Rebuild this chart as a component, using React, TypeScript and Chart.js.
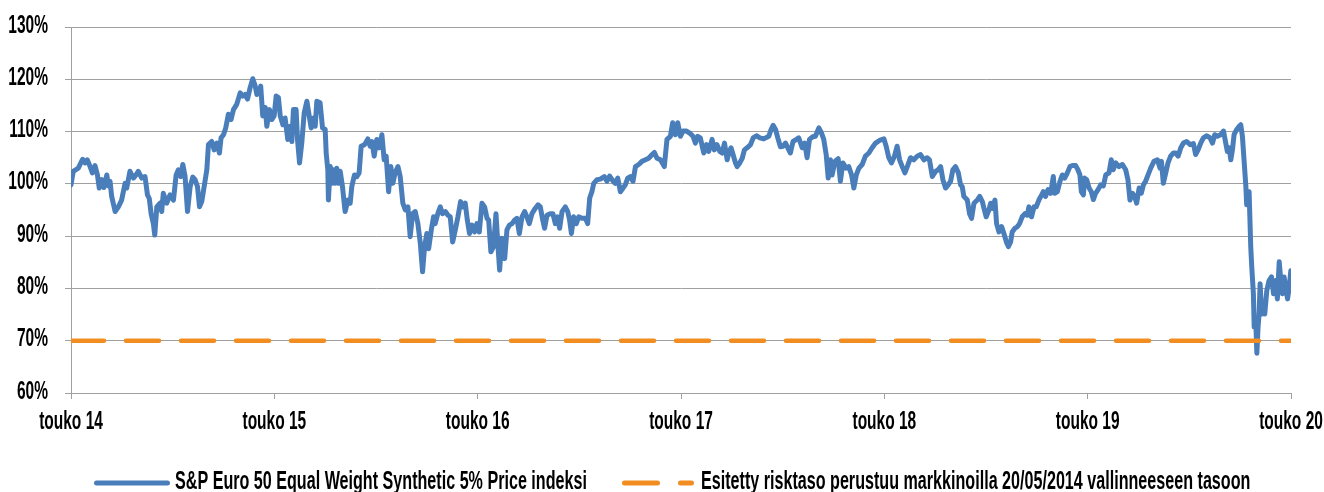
import { useEffect, useRef } from "react";
import { Chart, registerables } from "chart.js";

Chart.register(...registerables);

// ---------- data ----------
const X_TICK_LABELS = ["touko 14", "touko 15", "touko 16", "touko 17", "touko 18", "touko 19", "touko 20"];
const Y_TICKS = [60, 70, 80, 90, 100, 110, 120, 130];
const SERIES_LABEL = "S&P Euro 50 Equal Weight Synthetic 5% Price indeksi";
const RISK_LABEL = "Esitetty risktaso perustuu markkinoilla 20/05/2014 vallinneeseen tasoon";
const RISK_LEVEL = 70;
const RISK_SPAN = [0, 6]; // years since 20/05/2014

// years since 20/05/2014
const YEARS = [
  0.000, 0.011, 0.036, 0.057, 0.069, 0.080, 0.094, 0.105, 0.118, 0.130, 0.139, 0.151, 0.162, 0.176, 0.184, 0.192,
  0.200, 0.217, 0.233, 0.249, 0.266, 0.274, 0.290, 0.307, 0.320, 0.331, 0.348, 0.364, 0.376, 0.385, 0.394, 0.405,
  0.412, 0.422, 0.438, 0.446, 0.454, 0.471, 0.487, 0.504, 0.517, 0.528, 0.540, 0.550, 0.561, 0.573, 0.586, 0.599,
  0.610, 0.622, 0.632, 0.643, 0.655, 0.668, 0.676, 0.692, 0.704, 0.717, 0.730, 0.738, 0.750, 0.761, 0.774, 0.787,
  0.799, 0.815, 0.832, 0.845, 0.856, 0.868, 0.881, 0.894, 0.906, 0.914, 0.925, 0.933, 0.943, 0.955, 0.963, 0.976,
  0.988, 0.999, 1.009, 1.020, 1.029, 1.042, 1.053, 1.066, 1.078, 1.086, 1.094, 1.107, 1.114, 1.124, 1.135, 1.147,
  1.160, 1.181, 1.193, 1.201, 1.209, 1.225, 1.237, 1.250, 1.255, 1.263, 1.266, 1.275, 1.283, 1.291, 1.299, 1.307,
  1.316, 1.324, 1.335, 1.348, 1.362, 1.373, 1.381, 1.394, 1.406, 1.417, 1.427, 1.444, 1.460, 1.471, 1.480, 1.491,
  1.504, 1.516, 1.529, 1.540, 1.550, 1.562, 1.573, 1.583, 1.594, 1.608, 1.619, 1.632, 1.644, 1.657, 1.668, 1.680,
  1.693, 1.706, 1.718, 1.729, 1.739, 1.750, 1.759, 1.772, 1.783, 1.791, 1.804, 1.816, 1.827, 1.841, 1.854, 1.865,
  1.877, 1.890, 1.903, 1.916, 1.928, 1.939, 1.949, 1.960, 1.972, 1.985, 1.996, 2.008, 2.021, 2.034, 2.046, 2.054,
  2.065, 2.078, 2.090, 2.100, 2.108, 2.119, 2.133, 2.144, 2.156, 2.169, 2.182, 2.193, 2.205, 2.218, 2.231, 2.242,
  2.254, 2.267, 2.283, 2.297, 2.308, 2.320, 2.329, 2.341, 2.357, 2.370, 2.382, 2.393, 2.403, 2.415, 2.431, 2.443,
  2.452, 2.461, 2.472, 2.485, 2.497, 2.513, 2.530, 2.541, 2.551, 2.562, 2.571, 2.587, 2.603, 2.623, 2.636, 2.649,
  2.666, 2.677, 2.689, 2.702, 2.715, 2.726, 2.738, 2.751, 2.764, 2.776, 2.792, 2.808, 2.825, 2.841, 2.858, 2.869,
  2.882, 2.899, 2.918, 2.931, 2.948, 2.959, 2.972, 2.984, 2.997, 3.010, 3.027, 3.043, 3.059, 3.071, 3.082, 3.095,
  3.112, 3.125, 3.136, 3.153, 3.164, 3.177, 3.191, 3.202, 3.214, 3.227, 3.235, 3.246, 3.256, 3.268, 3.276, 3.289,
  3.301, 3.312, 3.325, 3.342, 3.355, 3.371, 3.388, 3.407, 3.432, 3.443, 3.453, 3.465, 3.476, 3.489, 3.502, 3.514,
  3.525, 3.538, 3.551, 3.568, 3.579, 3.596, 3.609, 3.620, 3.632, 3.648, 3.661, 3.678, 3.691, 3.702, 3.714, 3.724,
  3.735, 3.743, 3.757, 3.773, 3.784, 3.796, 3.812, 3.825, 3.839, 3.850, 3.862, 3.875, 3.891, 3.907, 3.924, 3.940,
  3.957, 3.976, 3.998, 4.009, 4.022, 4.035, 4.050, 4.063, 4.075, 4.088, 4.101, 4.113, 4.129, 4.145, 4.162, 4.178,
  4.195, 4.211, 4.222, 4.236, 4.252, 4.265, 4.277, 4.288, 4.301, 4.314, 4.326, 4.337, 4.350, 4.364, 4.375, 4.383,
  4.391, 4.408, 4.419, 4.429, 4.441, 4.457, 4.469, 4.482, 4.490, 4.501, 4.514, 4.523, 4.531, 4.544, 4.552, 4.564,
  4.577, 4.588, 4.600, 4.610, 4.621, 4.629, 4.642, 4.654, 4.665, 4.678, 4.692, 4.703, 4.711, 4.724, 4.736, 4.747,
  4.760, 4.774, 4.782, 4.793, 4.805, 4.818, 4.831, 4.838, 4.851, 4.864, 4.875, 4.887, 4.900, 4.913, 4.925, 4.941,
  4.952, 4.962, 4.969, 4.979, 4.985, 4.995, 5.007, 5.018, 5.028, 5.039, 5.051, 5.064, 5.077, 5.089, 5.105, 5.116,
  5.126, 5.138, 5.154, 5.171, 5.187, 5.198, 5.208, 5.220, 5.231, 5.241, 5.253, 5.264, 5.274, 5.285, 5.297, 5.310,
  5.326, 5.343, 5.356, 5.363, 5.372, 5.384, 5.395, 5.408, 5.422, 5.433, 5.445, 5.458, 5.471, 5.487, 5.504, 5.520,
  5.531, 5.543, 5.556, 5.569, 5.586, 5.602, 5.614, 5.625, 5.638, 5.654, 5.668, 5.679, 5.687, 5.696, 5.704, 5.712,
  5.720, 5.733, 5.745, 5.753, 5.761, 5.769, 5.778, 5.782, 5.794, 5.802, 5.807, 5.815, 5.819, 5.827, 5.832, 5.838,
  5.843, 5.848, 5.856, 5.864, 5.871, 5.881, 5.892, 5.904, 5.914, 5.925, 5.933, 5.942, 5.950, 5.958, 5.966, 5.974,
  5.983, 5.991, 5.999,
];

// index level, % of the 20/05/2014 level
const VALUES = [
  99.8, 102.4, 103.0, 104.7, 104.0, 104.6, 103.3, 102.1, 103.5, 101.7, 99.2, 100.8, 99.3, 101.7, 99.6, 100.5,
  97.6, 94.7, 95.6, 96.9, 100.1, 99.2, 102.4, 101.1, 101.7, 102.4, 101.1, 101.4, 97.9, 97.2, 94.3, 92.4,
  90.2, 95.6, 96.3, 94.7, 98.2, 96.3, 97.9, 96.9, 101.7, 102.7, 101.4, 103.7, 101.4, 94.7, 99.5, 101.3,
  100.8, 99.5, 95.6, 96.6, 99.5, 102.7, 107.5, 108.1, 106.5, 107.8, 105.9, 108.8, 109.4, 110.7, 113.3, 112.3,
  114.2, 115.2, 117.4, 116.8, 117.1, 116.2, 118.4, 120.1, 118.7, 117.1, 117.4, 118.7, 113.0, 114.6, 111.0, 114.2,
  112.3, 113.0, 116.8, 116.5, 113.0, 111.3, 112.6, 108.5, 111.0, 108.1, 114.2, 114.2, 108.5, 104.0, 107.8, 113.6,
  115.8, 110.7, 112.6, 111.0, 115.8, 115.5, 110.7, 110.4, 105.9, 102.7, 96.9, 103.3, 100.1, 102.7, 100.1, 103.0,
  100.1, 102.4, 99.5, 94.7, 96.9, 96.3, 99.5, 101.7, 101.4, 102.1, 107.2, 107.5, 108.6, 107.2, 108.1, 105.3,
  108.5, 106.9, 109.4, 104.6, 105.3, 98.5, 103.3, 100.1, 102.1, 103.3, 101.4, 96.3, 95.0, 95.6, 89.9, 94.3,
  94.7, 92.4, 88.6, 83.2, 88.0, 90.5, 87.6, 91.2, 93.7, 92.4, 94.3, 95.6, 94.3, 94.7, 94.0, 93.7,
  88.9, 91.2, 93.7, 96.6, 95.6, 96.3, 93.1, 90.5, 92.1, 90.8, 92.4, 90.8, 96.3, 95.6, 93.4, 93.1,
  87.0, 88.0, 94.3, 88.0, 83.5, 89.6, 85.7, 91.2, 92.1, 92.4, 93.1, 93.4, 90.5, 93.7, 94.7, 93.7,
  92.4, 94.3, 95.3, 96.0, 95.6, 93.1, 91.5, 94.0, 94.3, 94.3, 92.4, 93.7, 91.5, 94.7, 95.6, 94.7,
  93.1, 90.5, 93.7, 92.4, 93.7, 93.4, 93.4, 92.4, 97.3, 98.5, 100.1, 100.8, 100.9, 101.4, 100.5, 101.5,
  100.5, 100.1, 101.1, 98.5, 99.2, 99.8, 101.1, 101.4, 100.5, 103.3, 103.7, 104.3, 104.6, 104.9, 105.6, 106.0,
  104.9, 104.6, 103.3, 108.5, 109.1, 111.7, 109.4, 111.7, 109.1, 110.1, 110.1, 109.7, 109.1, 107.8, 109.1, 108.8,
  105.9, 107.5, 106.2, 108.5, 106.5, 107.5, 106.2, 105.9, 107.8, 104.6, 105.9, 106.9, 105.6, 104.0, 103.3, 104.0,
  104.9, 106.5, 106.9, 107.5, 108.8, 109.2, 108.8, 108.6, 109.1, 110.4, 111.2, 110.4, 108.8, 107.1, 107.2, 107.8,
  106.9, 105.9, 108.1, 108.5, 108.8, 106.9, 107.8, 105.0, 108.5, 109.0, 109.1, 110.7, 109.7, 108.5, 105.6, 101.1,
  104.6, 101.7, 104.3, 104.8, 100.5, 104.0, 103.0, 103.3, 101.7, 99.2, 101.7, 103.0, 103.7, 105.3, 105.9, 106.9,
  107.8, 108.3, 108.6, 107.2, 105.0, 104.0, 105.3, 107.2, 104.6, 103.3, 102.1, 103.3, 105.0, 104.6, 105.3, 105.6,
  104.6, 105.0, 104.6, 101.4, 102.4, 102.7, 103.3, 100.8, 99.2, 99.8, 100.5, 102.7, 103.3, 102.1, 99.8, 99.5,
  97.6, 96.9, 94.3, 93.4, 96.3, 96.9, 97.6, 96.6, 95.3, 93.7, 95.0, 96.3, 95.3, 96.9, 92.4, 90.8,
  91.8, 90.5, 88.9, 88.0, 88.9, 90.8, 91.5, 91.8, 92.4, 93.7, 94.3, 94.0, 95.6, 93.7, 95.6, 95.6,
  96.9, 97.9, 98.5, 97.6, 98.9, 98.2, 101.4, 98.2, 98.5, 100.5, 101.7, 101.1, 102.1, 103.3, 103.5, 103.5,
  102.7, 101.7, 98.5, 97.9, 101.1, 100.8, 99.2, 98.5, 97.0, 98.2, 98.9, 99.8, 99.6, 101.7, 102.1, 104.6,
  102.7, 104.0, 103.3, 103.7, 102.7, 100.8, 96.9, 98.2, 97.6, 96.3, 99.2, 98.2, 99.8, 100.5, 101.7, 103.0,
  104.3, 104.6, 103.0, 104.3, 100.1, 102.1, 104.0, 105.3, 105.9, 105.9, 105.3, 106.9, 107.8, 108.1, 107.5, 107.7,
  105.6, 106.5, 107.8, 108.8, 109.2, 108.8, 107.8, 109.4, 109.1, 109.4, 110.1, 107.8, 106.2, 106.9, 104.6, 106.5,
  109.4, 110.4, 111.0, 111.3, 109.1, 104.6, 99.5, 96.0, 98.5, 88.0, 84.1, 79.0, 72.6, 73.5, 67.6, 72.6,
  75.1, 80.9, 75.1, 76.4, 75.1, 79.6, 81.5, 82.2, 79.0, 81.5, 78.0, 85.1, 81.5, 79.0, 82.2, 80.3,
  78.0, 80.1, 83.4,
];

// ---------- styling ----------
const BLUE = "#4A7EBB";
const ORANGE = "#F18D21";
const GRID = "#A0A0A0";
const TEXT = "#000000";
const FONT = 'bold 25px "Liberation Sans", Arial, sans-serif';
const TICK_SQUEEZE = 0.62;
const LEGEND_SQUEEZE = 0.645;

function drawSqueezed(
  ctx: CanvasRenderingContext2D,
  text: string,
  x: number,
  y: number,
  align: CanvasTextAlign,
  squeeze: number
) {
  ctx.save();
  ctx.translate(x, y);
  ctx.scale(squeeze, 1);
  ctx.textAlign = align;
  ctx.textBaseline = "alphabetic";
  ctx.fillText(text, 0, 0);
  ctx.restore();
}

const labelsPlugin = {
  id: "squeezedLabels",
  afterDraw(chart: any) {
    const { ctx, scales } = chart;
    const left = chart.chartArea.left;
    ctx.save();
    ctx.font = FONT;
    ctx.fillStyle = TEXT;
    Y_TICKS.forEach((v) => {
      drawSqueezed(ctx, `${v}%`, left - 23, scales.y.getPixelForValue(v) + 5.5, "right", TICK_SQUEEZE);
    });
    X_TICK_LABELS.forEach((l, i) => {
      drawSqueezed(ctx, l, scales.x.getPixelForValue(i), 429, "center", TICK_SQUEEZE);
    });

    // legend
    const ly = 483;
    const ty = 489;
    ctx.lineWidth = 5;
    ctx.lineCap = "round";
    ctx.strokeStyle = BLUE;
    ctx.setLineDash([]);
    ctx.beginPath();
    ctx.moveTo(96.5, ly);
    ctx.lineTo(167.5, ly);
    ctx.stroke();
    drawSqueezed(ctx, SERIES_LABEL, 175, ty, "left", LEGEND_SQUEEZE);

    ctx.strokeStyle = ORANGE;
    ctx.setLineDash([33, 23]);
    ctx.beginPath();
    ctx.moveTo(624.5, ly);
    ctx.lineTo(691.5, ly);
    ctx.stroke();
    ctx.setLineDash([]);
    drawSqueezed(ctx, RISK_LABEL, 701, ty, "left", LEGEND_SQUEEZE);
    ctx.restore();
  },
};

export default function App() {
  const canvasRef = useRef<HTMLCanvasElement | null>(null);

  useEffect(() => {
    if (!canvasRef.current) return;
    const chart = new Chart(canvasRef.current, {
      type: "line",
      data: {
        datasets: [
          {
            label: SERIES_LABEL,
            data: YEARS.map((t, i) => ({ x: t, y: VALUES[i] })),
            borderColor: BLUE,
            backgroundColor: BLUE,
            borderWidth: 5,
            pointRadius: 0,
            tension: 0,
            borderJoinStyle: "round",
            borderCapStyle: "round",
            order: 2,
          },
          {
            label: RISK_LABEL,
            data: RISK_SPAN.map((t) => ({ x: t, y: RISK_LEVEL })),
            borderColor: ORANGE,
            backgroundColor: ORANGE,
            borderWidth: 4.5,
            borderDash: [33, 22],
            borderCapStyle: "round",
            pointRadius: 0,
            order: 1,
          },
        ],
      },
      options: {
        animation: false,
        responsive: false,
        maintainAspectRatio: false,
        layout: { padding: { left: 0, right: 33, top: 27, bottom: 0 } },
        plugins: { legend: { display: false }, tooltip: { enabled: false } },
        scales: {
          x: {
            type: "linear",
            min: 0,
            max: 6,
            afterFit: (s: any) => {
              s.height = 99;
            },
            ticks: { display: false, stepSize: 1 },
            grid: { drawOnChartArea: false, drawTicks: true, tickLength: 6, color: GRID, lineWidth: 1 },
            border: { display: true, color: GRID, width: 1 },
          },
          y: {
            type: "linear",
            min: 60,
            max: 130,
            afterFit: (s: any) => {
              s.width = 71;
            },
            ticks: { display: false, stepSize: 10 },
            grid: { color: GRID, tickLength: 6, lineWidth: 1 },
            border: { display: true, color: GRID, width: 1 },
          },
        },
      },
      plugins: [labelsPlugin],
    } as any);
    return () => chart.destroy();
  }, []);

  return (
    <div style={{ position: "fixed", left: 0, top: 0, width: 1324, height: 492, background: "#fff" }}>
      <canvas ref={canvasRef} width={1324} height={492} style={{ display: "block" }} />
    </div>
  );
}
